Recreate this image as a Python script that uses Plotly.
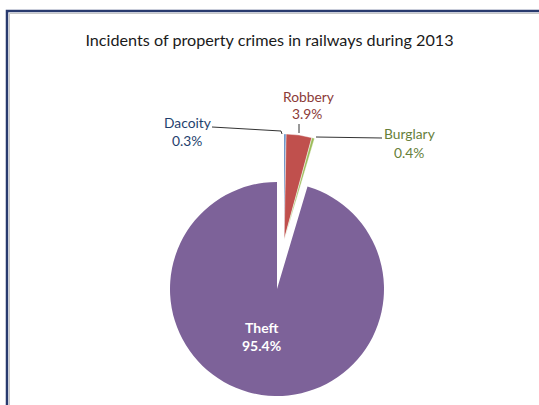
import plotly.graph_objects as go

W, H = 539, 405

# ---- data ----
labels = ["Dacoity", "Robbery", "Burglary", "Theft"]
values = [0.3, 3.9, 0.4, 95.4]
colors = ["#4F81BD", "#C0504D", "#9BBB59", "#7D6299"]
label_colors = ["#1F3F6E", "#8B3A38", "#66803A", "#FFFFFF"]
title_text = "Incidents of property crimes in railways during 2013"

def px_x(x):
    return x / W

def px_y(y):
    return 1 - y / H

def dom(cx, cy, r):
    return dict(x=[px_x(cx - r), px_x(cx + r)], y=[px_y(cy + r), px_y(cy - r)])

R = 107
fig = go.Figure()

# main slice (Theft) - other slices transparent
fig.add_trace(go.Pie(
    labels=labels, values=values, sort=False, direction="clockwise", rotation=0,
    marker=dict(colors=[c if l == "Theft" else "rgba(0,0,0,0)" for l, c in zip(labels, colors)],
                line=dict(width=0)),
    textinfo="none", hoverinfo="label+percent", showlegend=False,
    domain=dom(277, 289, R),
))

# exploded small slices - Theft transparent
fig.add_trace(go.Pie(
    labels=labels, values=values, sort=False, direction="clockwise", rotation=0,
    marker=dict(colors=["rgba(0,0,0,0)" if l == "Theft" else c for l, c in zip(labels, colors)],
                line=dict(color="white", width=[0.4, 0.4, 0.4, 0])),
    pull=[0.012, 0.012, 0.012, 0],
    textinfo="none", hoverinfo="label+percent", showlegend=False,
    domain=dom(284, 241, R),
))

# label positions (pixels) for name and percentage
name_pos = {"Dacoity": (187, 122), "Robbery": (308, 96), "Burglary": (409, 133), "Theft": (262, 327)}
pct_pos = {"Dacoity": (187, 140), "Robbery": (307, 114), "Burglary": (409, 152), "Theft": (261, 345)}

annotations = []
for l, v, lc in zip(labels, values, label_colors):
    for txt, pos in ((l, name_pos[l]), (f"{v:.1f}%", pct_pos[l])):
        annotations.append(dict(
            x=px_x(pos[0]), y=px_y(pos[1]), xref="paper", yref="paper",
            text=f"<b>{txt}</b>" if l == "Theft" else txt,
            showarrow=False, xanchor="center", yanchor="middle",
            font=dict(family="Lato", size=14 if l == "Theft" else 13.8, color=lc),
        ))

# leader lines
leaders = [
    [(212, 127), (281, 131), (282, 134)],
    [(299, 124), (299, 133)],
    [(316, 137), (382, 138)],
]
shapes = []
for pts in leaders:
    for (x0, y0), (x1, y1) in zip(pts[:-1], pts[1:]):
        shapes.append(dict(type="line", xref="paper", yref="paper",
                           x0=px_x(x0), y0=px_y(y0), x1=px_x(x1), y1=px_y(y1),
                           line=dict(color="#333333", width=1)))

# frame
shapes.append(dict(type="rect", xref="paper", yref="paper",
                   x0=px_x(7), y0=px_y(420), x1=px_x(560), y1=px_y(11),
                   line=dict(color="#283A6E", width=2.5)))
shapes.append(dict(type="rect", xref="paper", yref="paper",
                   x0=px_x(9.5), y0=px_y(420), x1=px_x(560), y1=px_y(13.5),
                   line=dict(color="#C8C8C8", width=1)))

fig.update_layout(
    width=W, height=H,
    margin=dict(l=0, r=0, t=0, b=0),
    paper_bgcolor="white", plot_bgcolor="white",
    title=dict(text=title_text, x=0.5, xanchor="center", y=px_y(40), yanchor="middle",
               font=dict(family="Lato", size=16.2, color="#1a1a1a")),
    annotations=annotations,
    shapes=shapes,
)

fig.write_html("out.html", config={"displayModeBar": False},
               post_script="document.body.style.margin='0';")
